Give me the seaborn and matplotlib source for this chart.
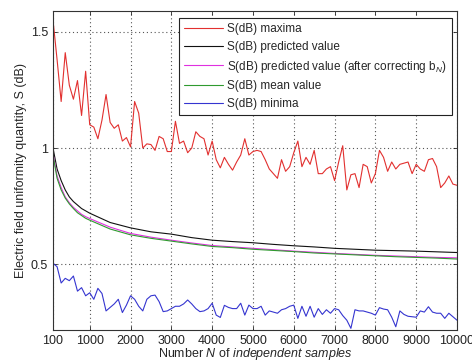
import numpy as np
import pandas as pd
import matplotlib
matplotlib.use("Agg")
import matplotlib.pyplot as plt
import seaborn as sns

# sample counts, step 100
n_samples = list(range(100, 10001, 100))

s_maxima = [
    1.55, 1.38, 1.20, 1.41, 1.27, 1.21, 1.29, 1.14, 1.33, 1.10,
    1.09, 1.04, 1.12, 1.23, 1.11, 1.085, 1.10, 1.03, 1.045, 1.005,
    1.20, 1.15, 1.00, 1.018, 1.015, 0.99, 1.05, 1.04, 0.985, 0.985,
    1.115, 1.02, 1.03, 0.98, 1.00, 1.07, 1.05, 1.04, 0.97, 1.03,
    0.95, 0.915, 0.96, 0.93, 0.905, 0.94, 0.97, 1.04, 0.97, 0.985,
    0.99, 0.985, 0.95, 0.91, 0.89, 0.87, 0.95, 0.90, 0.92, 0.98,
    1.03, 0.92, 0.96, 0.93, 0.99, 0.89, 0.89, 0.91, 0.92, 0.86,
    0.94, 1.01, 0.82, 0.885, 0.89, 0.83, 0.93, 0.92, 0.85, 0.89,
    0.99, 0.96, 0.90, 0.94, 0.91, 0.93, 0.935, 0.94, 0.89, 0.93,
    0.91, 0.90, 0.95, 0.955, 0.92, 0.83, 0.85, 0.88, 0.845, 0.84,
]

s_minima = [
    0.505, 0.49, 0.42, 0.44, 0.43, 0.45, 0.385, 0.40, 0.365, 0.378,
    0.35, 0.397, 0.375, 0.30, 0.315, 0.33, 0.35, 0.293, 0.325, 0.365,
    0.35, 0.32, 0.30, 0.35, 0.365, 0.368, 0.34, 0.297, 0.30, 0.31,
    0.32, 0.32, 0.33, 0.347, 0.33, 0.31, 0.297, 0.30, 0.31, 0.333,
    0.282, 0.272, 0.324, 0.315, 0.31, 0.31, 0.333, 0.282, 0.325, 0.31,
    0.31, 0.32, 0.282, 0.30, 0.295, 0.29, 0.305, 0.31, 0.32, 0.325,
    0.268, 0.32, 0.277, 0.32, 0.273, 0.31, 0.285, 0.305, 0.29, 0.31,
    0.305, 0.28, 0.26, 0.225, 0.305, 0.30, 0.30, 0.295, 0.29, 0.282,
    0.314, 0.308, 0.305, 0.273, 0.232, 0.30, 0.285, 0.277, 0.275, 0.273,
    0.30, 0.295, 0.318, 0.295, 0.29, 0.29, 0.268, 0.29, 0.275, 0.26,
]

# smooth curves, read at coarser steps
n_smooth = [100, 200, 300, 400, 500, 600, 700, 800, 900, 1000,
            1500, 2000, 2500, 3000, 3500, 4000, 4500, 5000, 5500, 6000,
            6500, 7000, 7500, 8000, 8500, 9000, 9500, 10000]
s_predicted = [1.00, 0.91, 0.86, 0.82, 0.79, 0.77, 0.755, 0.74, 0.73, 0.72,
               0.68, 0.657, 0.64, 0.63, 0.615, 0.604, 0.598, 0.593, 0.586, 0.58,
               0.575, 0.569, 0.565, 0.561, 0.559, 0.557, 0.554, 0.551]
s_pred_corr = [0.975, 0.88, 0.83, 0.79, 0.765, 0.745, 0.73, 0.715, 0.705, 0.697,
               0.66, 0.633, 0.617, 0.604, 0.592, 0.581, 0.575, 0.569, 0.563, 0.557,
               0.552, 0.547, 0.543, 0.539, 0.536, 0.533, 0.530, 0.528]
s_mean = [0.97, 0.87, 0.82, 0.785, 0.76, 0.74, 0.722, 0.71, 0.698, 0.69,
          0.652, 0.627, 0.612, 0.600, 0.588, 0.577, 0.572, 0.565, 0.56, 0.555,
          0.549, 0.545, 0.541, 0.537, 0.533, 0.53, 0.527, 0.523]

x_ticks = [100, 1000, 2000, 3000, 4000, 5000, 6000, 7000, 8000, 9000, 10000]
y_ticks = [0.5, 1, 1.5]

sns.set_style("ticks")
plt.rcParams["font.family"] = ["Liberation Sans", "DejaVu Sans"]
plt.rcParams["mathtext.fontset"] = "custom"
plt.rcParams["mathtext.rm"] = "Liberation Sans"
plt.rcParams["mathtext.it"] = "Liberation Sans:italic"

fig = plt.figure(figsize=(4.72, 3.61), dpi=100)
ax = fig.add_axes([53 / 472, 1 - 330 / 361, 404 / 472, 319 / 361])

lw = 0.8
sns.lineplot(x=n_samples, y=s_maxima, ax=ax, color="#e2302f", lw=lw,
             label="S(dB) maxima")
sns.lineplot(x=n_smooth, y=s_predicted, ax=ax, color="#111111", lw=lw,
             label="S(dB) predicted value")
sns.lineplot(x=n_smooth, y=s_pred_corr, ax=ax, color="#e030e0", lw=lw,
             label="S(dB) predicted value (after correcting b$_N$)")
sns.lineplot(x=n_smooth, y=s_mean, ax=ax, color="#2f9a2f", lw=lw,
             label="S(dB) mean value")
sns.lineplot(x=n_samples, y=s_minima, ax=ax, color="#3535d0", lw=lw,
             label="S(dB) minima")

ax.set_xlim(100, 10000)
ax.set_ylim(0.218, 1.589)
ax.set_xticks(x_ticks)
ax.set_xticklabels([str(t) for t in x_ticks])
ax.set_yticks(y_ticks)
ax.set_yticklabels(["0.5", "1", "1.5"])
ax.tick_params(direction="in", length=3, width=0.6, labelsize=9,
               top=True, right=True, colors="#222222")
ax.grid(True, linestyle=(0, (1, 2.5)), color="#555555", linewidth=0.8)
for sp in ax.spines.values():
    sp.set_color("#333333")
    sp.set_linewidth(0.8)

ax.set_xlabel(r"Number $N$ of $independent\ samples$", fontsize=9, labelpad=-0.3)
ax.set_ylabel("Electric field uniformity quantity, S (dB)", fontsize=9,
              labelpad=3)

leg = ax.legend(loc="upper right", bbox_to_anchor=(0.988, 0.978),
                fontsize=8.5, frameon=True, fancybox=False, framealpha=1,
                edgecolor="#222222", handlelength=3.3, borderaxespad=0,
                labelspacing=0.5, borderpad=0.4, handletextpad=0.4)
leg.get_frame().set_linewidth(0.8)

fig.savefig("out.png", dpi=100, facecolor="white")
